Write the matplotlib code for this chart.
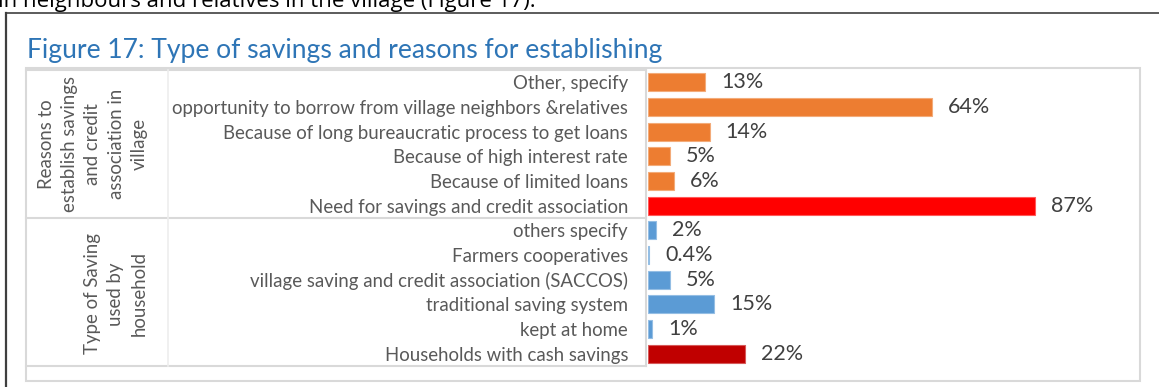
import matplotlib
matplotlib.use("Agg")
import matplotlib.pyplot as plt
from matplotlib.lines import Line2D
from matplotlib.patches import Rectangle
from matplotlib.colors import to_rgb

# ---- data -------------------------------------------------------------
reason_labels = [
    "Other, specify",
    "opportunity to borrow from village neighbors &relatives",
    "Because of long bureaucratic process to get loans",
    "Because of high interest rate",
    "Because of limited loans",
    "Need for savings and credit association",
]
reason_values = [13, 64, 14, 5, 6, 87]

saving_labels = [
    "others specify",
    "Farmers cooperatives",
    "village saving and credit association (SACCOS)",
    "traditional saving system",
    "kept at home",
    "Households with cash savings",
]
saving_values = [2, 0.4, 5, 15, 1, 22]

group_labels = [
    "Reasons to\nestablish savings\nand credit\nassociation in\nvillage",
    "Type of Saving\nused by\nhousehold",
]

title = "Figure 17: Type of savings and reasons for establishing"
lead_text = "in neighbours and relatives in the village (Figure 17)."

# ---- styling ----------------------------------------------------------
FONT = ["Lato", "DejaVu Sans"]
plt.rcParams["font.family"] = FONT

ORANGE, RED, BLUE, DARKRED = "#ED7D31", "#FF0000", "#5B9BD5", "#C00000"
reason_colors = [ORANGE] * 5 + [RED]
saving_colors = [BLUE] * 5 + [DARKRED]
TEXT = "#595959"
VALUE_TEXT = "#404040"
GRID = "#D9D9D9"
CAT_SIZE = 13.4


def tint(c, k=0.35):
    r, g, b = to_rgb(c)
    return (r + (1 - r) * k, g + (1 - g) * k, b + (1 - b) * k)


W, H = 1159, 387
fig = plt.figure(figsize=(W / 100, H / 100), dpi=100)


def frac(x0, y0, x1, y1):
    """Pixel box (top-left origin) -> figure-fraction rect."""
    return [x0 / W, 1 - y1 / H, (x1 - x0) / W, (y1 - y0) / H]


# background layer in pixel coordinates for frames and table rules
bg = fig.add_axes([0, 0, 1, 1])
bg.set_xlim(0, W)
bg.set_ylim(H, 0)
bg.axis("off")

# page frame (left and top rules)
bg.add_line(Line2D([6, 6], [13, H + 5], color="#3F3F3F", lw=1.6))
bg.add_line(Line2D([6, W + 5], [13, 13], color="#3F3F3F", lw=1.2))

# running text from the page above the figure
bg.text(-2, 7, lead_text, fontsize=16, color="black", ha="left",
        va="baseline", family=["Open Sans", "DejaVu Sans"])

# caption
bg.text(27, 58, title, fontsize=19.1, color="#2E75B6", ha="left",
        va="baseline")

# chart area border
bg.add_patch(Rectangle((26, 68), 1140 - 26, 380.5 - 68, fill=False,
                       edgecolor=GRID, lw=1.5))

# category table
tab_top, tab_mid, tab_bot = 70, 217.5, 366
tab_left, tab_sep, tab_right = 26, 168, 646
bg.add_line(Line2D([tab_left, tab_right], [tab_top, tab_top], color=GRID, lw=1.5))
bg.add_line(Line2D([tab_left, tab_right], [tab_mid, tab_mid], color=GRID, lw=1.5))
bg.add_line(Line2D([tab_left, tab_right], [tab_bot, tab_bot], color=GRID, lw=1.5))
bg.add_line(Line2D([tab_right, tab_right], [tab_top, tab_bot], color=GRID, lw=1.5))
bg.add_line(Line2D([tab_sep, tab_sep], [tab_top, tab_bot], color="#EDEDED", lw=1.2))

# group labels (rotated)
bg.text(93, (tab_top + tab_mid) / 2, group_labels[0], rotation=90,
        ha="center", va="center", multialignment="center",
        fontsize=CAT_SIZE, color=TEXT, linespacing=1.45)
bg.text(116, (tab_mid + tab_bot) / 2 + 2, group_labels[1], rotation=90,
        ha="center", va="center", multialignment="center",
        fontsize=CAT_SIZE, color=TEXT, linespacing=1.45)

# ---- bars -------------------------------------------------------------
labels = reason_labels + saving_labels
values = reason_values + saving_values
colors = reason_colors + saving_colors

px_per_unit = 4.45
ax_left, ax_right = 647.5, 1130
ax = fig.add_axes(frac(ax_left, tab_top, ax_right, tab_bot))
ax.set_xlim(0, (ax_right - ax_left) / px_per_unit)
ax.set_ylim(len(labels) - 0.5, -0.5)

pos = list(range(len(labels)))
ax.barh(pos, values, height=0.74, color=colors,
        edgecolor=[tint(c) for c in colors], linewidth=0.8)

for p, v in zip(pos, values):
    ax.annotate(f"{v:g}%", xy=(v, p), xytext=(11.5, 0),
                textcoords="offset points", ha="left", va="center",
                fontsize=15.5, color=VALUE_TEXT)

ax.set_yticks(pos)
ax.set_yticklabels(labels, fontsize=CAT_SIZE, color=TEXT)
ax.tick_params(axis="y", length=0, pad=14)
ax.set_xticks([])
for s in ax.spines.values():
    s.set_visible(False)
ax.patch.set_alpha(0)

fig.savefig("out.png", dpi=100)
